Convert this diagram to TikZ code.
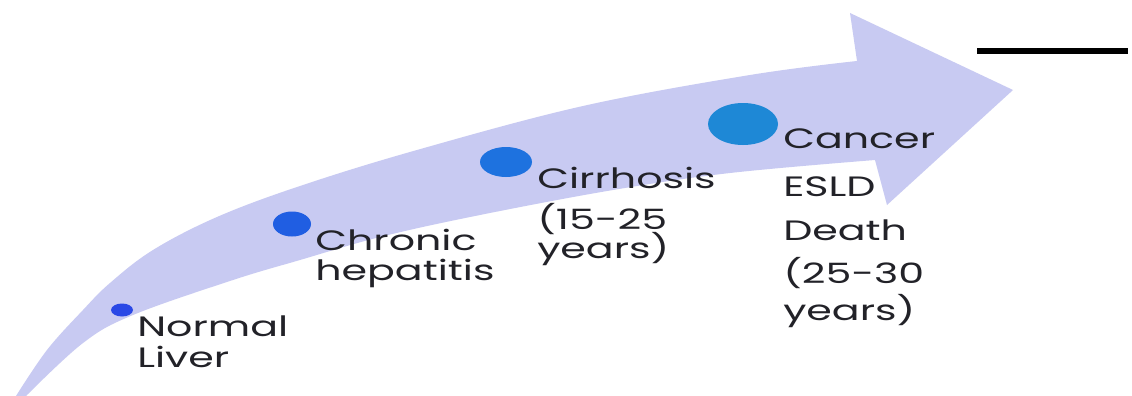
\documentclass[tikz,border=0pt]{standalone}
\usepackage{fontspec}
\setmainfont{Poppins}
\usetikzlibrary{shapes.geometric}
\definecolor{band}{RGB}{200,202,242}
\definecolor{txt}{RGB}{34,34,40}
\definecolor{dA}{RGB}{42,72,230}
\definecolor{dB}{RGB}{32,94,226}
\definecolor{dC}{RGB}{30,114,223}
\definecolor{dD}{RGB}{30,136,214}
\tikzset{
  lbl/.style={font=\fontsize{28}{32}\selectfont, text=txt, inner sep=0pt, anchor=base west, xscale=1.47},
  dot/.style={ellipse, inner sep=0pt, draw=none}
}
\begin{document}
\begin{tikzpicture}[x=1pt,y=-1pt]
\useasboundingbox (0,0) rectangle (1132,396);
\fill[white] (0,0) rectangle (1132,396);
% band arrow
\fill[band] plot[smooth, tension=0.6] coordinates {(16,396) (47,350) (83,310) (110,283) (153,250) (217,217) (300,186) (417,150) (583,106) (750,75) (857,61)}
  -- (850,13) -- (1013,90) -- (887,205) -- (875,160)
  -- plot[smooth, tension=0.6] coordinates {(875,160) (730,173) (613,190) (480,215) (380,237) (300,260) (233,280) (133,315) (83,343) (26,396)}
  -- cycle;
% black line
\coordinate (la) at (977,51);
\coordinate (lb) at (1128,51);
\draw[line width=6.5pt] (la) -- (lb);
% dots
\node[dot, fill=dA, minimum width=22pt, minimum height=13pt] (d1) at (122,310) {};
\node[dot, fill=dB, minimum width=38pt, minimum height=25pt] (d2) at (292,224) {};
\node[dot, fill=dC, minimum width=52pt, minimum height=30pt] (d3) at (506,162) {};
\node[dot, fill=dD, minimum width=70pt, minimum height=42pt] (d4) at (743,124) {};
% labels
\node[lbl] (t1a) at (137,336) {Normal};
\node[lbl] (t1b) at (137,367) {Liver};
\node[lbl] (t2a) at (315,250) {Chronic};
\node[lbl] (t2b) at (315,280) {hepatitis};
\node[lbl] (t3a) at (537,188) {Cirrhosis};
\node[lbl] (t3b) at (537,229) {(15-25};
\node[lbl] (t3c) at (537,258) {years)};
\node[lbl] (t4a) at (783,148) {Cancer};
\node[lbl] (t4b) at (783,196) {ESLD};
\node[lbl] (t4c) at (783,240) {Death};
\node[lbl] (t4d) at (783,283) {(25-30};
\node[lbl] (t4e) at (783,320) {years)};
\end{tikzpicture}
\end{document}
